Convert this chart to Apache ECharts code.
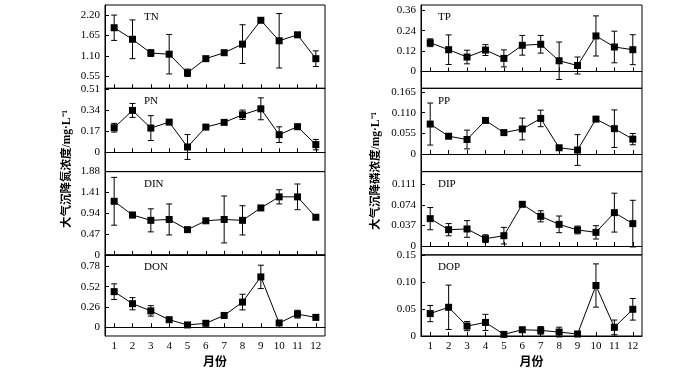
<!DOCTYPE html>
<html>
<head>
<meta charset="utf-8">
<script src="https://cdn.jsdelivr.net/npm/echarts@6/dist/echarts.min.js"></script>
<style>html,body{margin:0;padding:0;background:#fff;}#c{width:700px;height:370px;}</style>
</head>
<body>
<div id="c"></div>
<script>
var months = [1,2,3,4,5,6,7,8,9,10,11,12];

// Nitrogen (left column)
var TN = [1.86,1.55,1.18,1.15,0.65,1.03,1.19,1.42,2.06,1.51,1.67,1.03];
var TN_err = [0.34,0.52,0.09,0.53,0.10,0,0,0.52,0.05,0.73,0,0.21];
var PN = [0.198,0.337,0.195,0.243,0.043,0.203,0.241,0.302,0.350,0.142,0.206,0.062];
var PN_err = [0.035,0.056,0.10,0.015,0.10,0,0,0.038,0.088,0.063,0.02,0.042];
var DIN = [1.21,0.90,0.78,0.80,0.57,0.77,0.80,0.78,1.06,1.31,1.31,0.85];
var DIN_err = [0.54,0.06,0.26,0.35,0,0.04,0.53,0.33,0,0.16,0.29,0];
var DON = [0.456,0.301,0.209,0.096,0.029,0.050,0.151,0.322,0.645,0.054,0.167,0.126];
var DON_err = [0.10,0.078,0.067,0,0,0,0.035,0.10,0.15,0,0.05,0];

// Phosphorus (right column)
var TP = [0.169,0.128,0.085,0.126,0.077,0.154,0.160,0.063,0.035,0.209,0.144,0.128];
var TP_err = [0.023,0.087,0.04,0.032,0.05,0.058,0.052,0.11,0.05,0.118,0.093,0.088];
var PP = [0.0797,0.0473,0.0385,0.0894,0.0569,0.0666,0.0947,0.0166,0.0105,0.0929,0.0674,0.0395];
var PP_err = [0.056,0.005,0.025,0.005,0,0.029,0.022,0.005,0.041,0.004,0.05,0.015];
var DIP = [0.0493,0.0294,0.0307,0.0132,0.0186,0.0751,0.0535,0.039,0.0289,0.0246,0.0601,0.0403];
var DIP_err = [0.02,0.011,0.015,0.007,0.015,0.004,0.01,0.015,0.007,0.012,0.035,0.042];
var DOP = [0.0415,0.0531,0.0183,0.0251,0.003,0.0116,0.0104,0.0073,0.0037,0.0934,0.016,0.0494];
var DOP_err = [0.015,0.041,0.0085,0.015,0,0,0.007,0.009,0,0.04,0.0135,0.02];

// tick labels
var TN_ticks = ["0.55","1.10","1.65","2.20"];
var PN_ticks = ["0","0.17","0.34","0.51"];
var DIN_ticks = ["0","0.47","0.94","1.41","1.88"];
var DON_ticks = ["0","0.26","0.52","0.78"];
var TP_ticks = ["0","0.12","0.24","0.36"];
var PP_ticks = ["0","0.055","0.110","0.165"];
var DIP_ticks = ["0","0.037","0.074","0.111"];
var DOP_ticks = ["0","0.05","0.10","0.15"];

var yTitleN = "大气沉降氮浓度/mg·L⁻¹";
var yTitleP = "大气沉降磷浓度/mg·L⁻¹";
var xTitle = "月份";

var panels = [
  {name:"TN", v:TN, e:TN_err, t:TN_ticks, min:0.235, max:2.47, col:0, row:0},
  {name:"PN", v:PN, e:PN_err, t:PN_ticks, min:-0.155, max:0.515, col:0, row:1},
  {name:"DIN", v:DIN, e:DIN_err, t:DIN_ticks, min:0, max:1.88, col:0, row:2},
  {name:"DON", v:DON, e:DON_err, t:DON_ticks, min:-0.113, max:0.927, col:0, row:3},
  {name:"TP", v:TP, e:TP_err, t:TP_ticks, min:-0.099, max:0.391, col:1, row:0},
  {name:"PP", v:PP, e:PP_err, t:PP_ticks, min:-0.047, max:0.175, col:1, row:1},
  {name:"DIP", v:DIP, e:DIP_err, t:DIP_ticks, min:-0.016, max:0.134, col:1, row:2},
  {name:"DOP", v:DOP, e:DOP_err, t:DOP_ticks, min:0, max:0.15, col:1, row:3}
];

var serif = "'Liberation Serif','Times New Roman',serif";
var cjk = "'Liberation Serif','Noto Sans CJK SC',serif";
var gridLeft = [105, 421];
var gridW = [220, 221];
var labelOffset = [39, 17];
var top0 = 5, ph = 83.3;

var grids = [], xAxes = [], yAxes = [], series = [], titles = [];
panels.forEach(function(p, i){
  var top = top0 + p.row * ph;
  grids.push({left: gridLeft[p.col], top: top, width: gridW[p.col], height: ph,
    show: true, borderColor: '#000', borderWidth: 1, backgroundColor: 'transparent'});
  var isBottom = p.row === 3;
  xAxes.push({type: 'value', gridIndex: i, min: 0.5, max: 12.5,
    axisLine: {show: true, lineStyle: {color: '#000', width: 1}},
    axisTick: {show: true, inside: true, length: 4, customValues: months, lineStyle: {color: '#000'}},
    axisLabel: {show: isBottom, customValues: months, color: '#000', fontFamily: serif, fontSize: 11, margin: 5},
    splitLine: {show: false},
    name: isBottom ? xTitle : '', nameLocation: 'middle', nameGap: 21,
    nameTextStyle: {fontFamily: cjk, fontSize: 12, fontWeight: 'bold', color: '#000'}
  });
  var tickVals = p.t.map(function(s){return parseFloat(s);});
  yAxes.push({type: 'value', gridIndex: i, min: p.min, max: p.max,
    axisLine: {show: true, lineStyle: {color: '#000', width: 1}},
    axisTick: {show: true, inside: true, length: 4, customValues: tickVals, lineStyle: {color: '#000'}},
    axisLabel: {show: true, customValues: tickVals, color: '#000', fontFamily: serif, fontSize: 11, margin: 5,
      formatter: function(val){
        for (var k = 0; k < tickVals.length; k++) { if (Math.abs(tickVals[k]-val) < 1e-9) return p.t[k]; }
        return '';
      }},
    splitLine: {show: false}
  });
  var lineData = months.map(function(m, k){ return [m, p.v[k]]; });
  var errData = months.map(function(m, k){ return [m, p.v[k]-p.e[k], p.v[k]+p.e[k]]; });
  series.push({type: 'custom', xAxisIndex: i, yAxisIndex: i, data: errData, z: 2, silent: true,
    renderItem: function(params, api){
      var x = api.value(0), lo = api.value(1), hi = api.value(2);
      if (hi - lo <= 0) return null;
      var a = api.coord([x, lo]), b = api.coord([x, hi]);
      var hw = 3;
      var st = {stroke: '#000', lineWidth: 1};
      return {type: 'group', children: [
        {type: 'line', shape: {x1: a[0], y1: a[1], x2: b[0], y2: b[1]}, style: st},
        {type: 'line', shape: {x1: a[0]-hw, y1: a[1], x2: a[0]+hw, y2: a[1]}, style: st},
        {type: 'line', shape: {x1: b[0]-hw, y1: b[1], x2: b[0]+hw, y2: b[1]}, style: st}
      ]};
    }
  });
  series.push({type: 'line', xAxisIndex: i, yAxisIndex: i, data: lineData, z: 3,
    symbol: 'rect', symbolSize: 7, showSymbol: true,
    lineStyle: {color: '#000', width: 1}, itemStyle: {color: '#000'}, animation: false});
  titles.push({text: p.name, left: gridLeft[p.col] + labelOffset[p.col], top: top + 7, padding: 0,
    textStyle: {fontFamily: serif, fontSize: 11, fontWeight: 'normal', color: '#000'}});
});

var chart = echarts.init(document.getElementById('c'), null, {renderer: 'canvas'});
chart.setOption({
  animation: false,
  backgroundColor: '#fff',
  title: titles,
  grid: grids,
  xAxis: xAxes,
  yAxis: yAxes,
  series: series,
  graphic: [
    {type: 'text', x: 67, y: 169, rotation: Math.PI/2,
      style: {text: yTitleN, fontFamily: cjk, fontSize: 11.5, fontWeight: 'bold', fill: '#000', align: 'center', verticalAlign: 'middle'}},
    {type: 'text', x: 376, y: 171, rotation: Math.PI/2,
      style: {text: yTitleP, fontFamily: cjk, fontSize: 11.5, fontWeight: 'bold', fill: '#000', align: 'center', verticalAlign: 'middle'}}
  ]
});
</script>
</body>
</html>
